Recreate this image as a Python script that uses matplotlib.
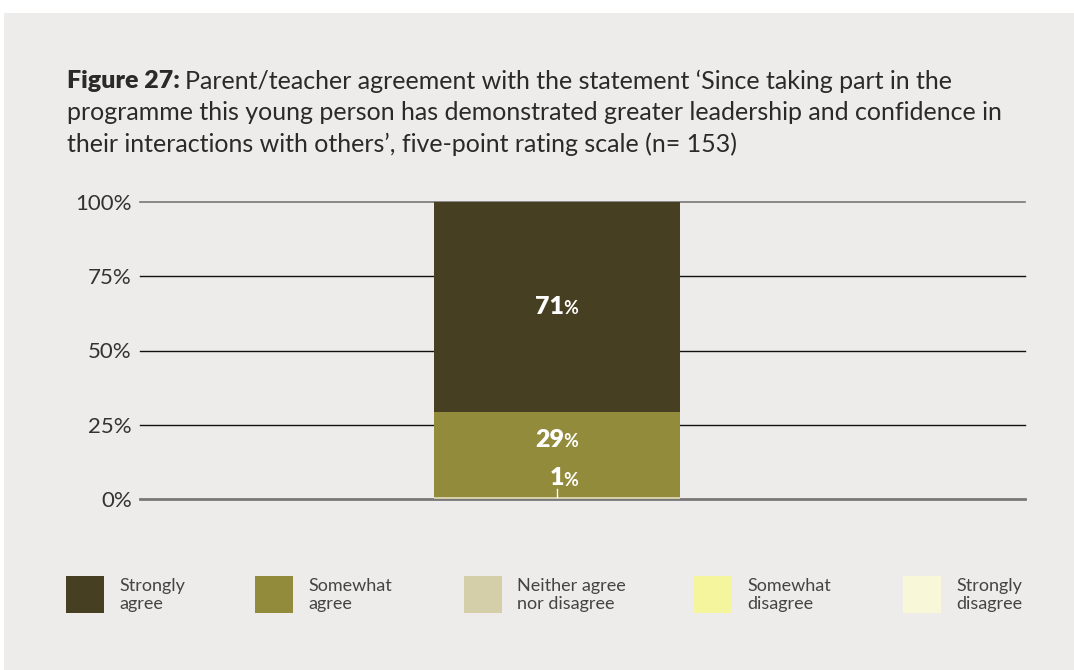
import matplotlib
matplotlib.use("Agg")
import matplotlib.pyplot as plt
from matplotlib.patches import Rectangle

plt.rcParams["font.family"] = ["Lato", "DejaVu Sans"]

# responses (counts, n = 153), bottom to top of the stacked bar
categories = ["Neither agree\nnor disagree", "Somewhat\nagree", "Strongly\nagree"]
counts = [1, 44, 108]
colors = ["#d4cfa9", "#918b3b", "#463f22"]
n_total = 153

legend_labels = ["Strongly\nagree", "Somewhat\nagree", "Neither agree\nnor disagree",
                 "Somewhat\ndisagree", "Strongly\ndisagree"]
legend_colors = ["#463f22", "#918b3b", "#d4cfa9", "#f5f59d", "#f8f8d8"]

yticks = [0, 25, 50, 75, 100]
ytick_labels = ["0%", "25%", "50%", "75%", "100%"]

txt = "#333333"
W, H = 1074, 670
fig = plt.figure(figsize=(W / 100, H / 100), dpi=100)
fig.patch.set_facecolor("white")
fig.add_artist(Rectangle((4 / W, 0), 1, 1 - 13 / H, transform=fig.transFigure,
                         facecolor="#edecea", edgecolor="none", zorder=0))

# title, bold lead-in followed by regular text
ty = 1 - 70 / H
tfs = 18
t1 = fig.text(67 / W, ty, "Figure 27:", fontsize=tfs, fontweight="heavy", color="#2a2a2a", va="top")
r = fig.canvas.get_renderer()
bb = t1.get_window_extent(r)
fig.text(bb.x1 / W + 5 / W, ty, "Parent/teacher agreement with the statement \u2018Since taking part in the",
         fontsize=tfs, color="#2a2a2a", va="top")
fig.text(67 / W, ty - 31 / H,
         "programme this young person has demonstrated greater leadership and confidence in",
         fontsize=tfs, color="#2a2a2a", va="top")
fig.text(67 / W, ty - 62 / H,
         "their interactions with others\u2019, five-point rating scale (n= 153)",
         fontsize=tfs, color="#2a2a2a", va="top")

ax = fig.add_axes([140 / W, 1 - 499 / H, 885 / W, 297 / H])
ax.set_facecolor("none")
for s in ax.spines.values():
    s.set_visible(False)

shares = [c / n_total * 100 for c in counts]
bottom = 0
for sh, col in zip(shares, colors):
    ax.bar(0, sh, width=1, bottom=bottom, color=col, zorder=3)
    bottom += sh

# gridlines
for y in yticks:
    if y == 0:
        ax.axhline(y, color="#777777", lw=2, zorder=2, clip_on=False)
    elif y == 100:
        ax.axhline(y, color="#777777", lw=1.2, zorder=2, clip_on=False)
    else:
        ax.axhline(y, color="#111111", lw=1, zorder=2, clip_on=False)

ax.set_xlim(-1.695, 1.902)
ax.set_ylim(0, 100)
ax.set_xticks([])
ax.set_yticks(yticks)
ax.set_yticklabels(ytick_labels, fontsize=16, color=txt)
ax.tick_params(axis="y", length=0, pad=6)

# value labels (number bold, % smaller)
label_y = [7, 20, 64.7]
for sh, y in zip(shares, label_y):
    ax.annotate(f"{round(sh)}", (0, y), xytext=(5, 0), textcoords="offset points",
                ha="right", va="center", fontsize=18, fontweight="heavy", color="white", zorder=5)
    ax.annotate("%", (0, y), xytext=(4.5, -1.5), textcoords="offset points",
                ha="left", va="center", fontsize=13, fontweight="bold", color="white", zorder=5)
ax.plot([0, 0], [shares[0], 3.5], color="white", lw=1, zorder=5)

# legend drawn by hand
lx = [66, 255, 464, 694, 903]
for x, lab, col in zip(lx, legend_labels, legend_colors):
    fig.add_artist(Rectangle((x / W, 1 - 613 / H), 38 / W, 37 / H, transform=fig.transFigure,
                             facecolor=col, edgecolor="none"))
    fig.text((x + 53) / W, 1 - 595 / H, lab, fontsize=13, color="#444444",
             va="center", ha="left", linespacing=1.15)

fig.savefig("out.png", dpi=100)
